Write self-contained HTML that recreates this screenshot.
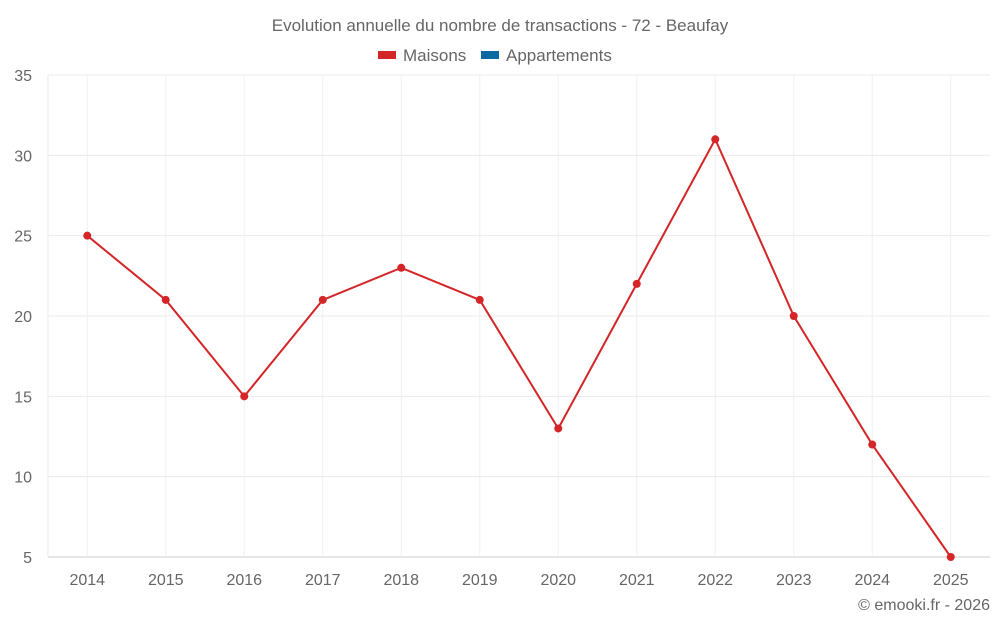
<!DOCTYPE html>
<html><head><meta charset="utf-8"><style>
body{margin:0;background:#fff;font-family:"Liberation Sans",sans-serif;}
svg text{font-family:"Liberation Sans",sans-serif;fill:#666;}
</style></head><body>
<svg id="chart" width="1000" height="625">
<text x="500" y="31" text-anchor="middle" font-size="17">Evolution annuelle du nombre de transactions - 72 - Beaufay</text>
<g>
<g><rect x="378" y="51" width="18" height="8" fill="#d42527"/><text x="403" y="61" font-size="17">Maisons</text></g>
<g><rect x="481" y="51" width="18" height="8" fill="#0a6aa1"/><text x="506" y="61" font-size="17">Appartements</text></g>
</g>
<g id="grid"></g><g id="axes"></g><g id="series"></g>
<text x="990" y="610" text-anchor="end" font-size="16">© emooki.fr - 2026</text>
</svg>
<script>
const categories=["2014","2015","2016","2017","2018","2019","2020","2021","2022","2023","2024","2025"];
const maisons=[25,21,15,21,23,21,13,22,31,20,12,5];
const yTicks=[5,10,15,20,25,30,35];
const NS="http://www.w3.org/2000/svg";
const L=48,R=990,T=75,B=557,yMin=5,yMax=35;
const step=(R-L)/categories.length;
const x=i=>L+step*(i+0.5);
const y=v=>B-(v-yMin)/(yMax-yMin)*(B-T);
function mk(t,a,p){const e=document.createElementNS(NS,t);for(const k in a)e.setAttribute(k,a[k]);p.appendChild(e);return e;}
const g=document.getElementById('grid'),ax=document.getElementById('axes'),s=document.getElementById('series');
yTicks.forEach(v=>{
const l=mk('line',{x1:L,x2:R,y1:y(v),y2:y(v),stroke:v===yMin?'#ccc':'#ebebeb'},g);


const t=mk('text',{x:32,y:y(v)+6,'text-anchor':'end','font-size':16},ax);t.textContent=v;


});
categories.forEach((c,i)=>{
const l=mk('line',{x1:x(i),x2:x(i),y1:T,y2:B,stroke:'#f0f0f0'},g);


const t=mk('text',{x:x(i),y:585,'text-anchor':'middle','font-size':16},ax);t.textContent=c;


});
const vl=mk('line',{x1:L,x2:L,y1:T,y2:B,stroke:'#ebebeb'},g);


const p=mk('polyline',{points:maisons.map((v,i)=>x(i)+','+y(v)).join(' '),fill:'none',stroke:'#d42527','stroke-width':2},s);


maisons.forEach((v,i)=>{
const c=mk('circle',{cx:x(i),cy:y(v),r:4,fill:'#d42527'},s);


});
</script>
</body></html>
